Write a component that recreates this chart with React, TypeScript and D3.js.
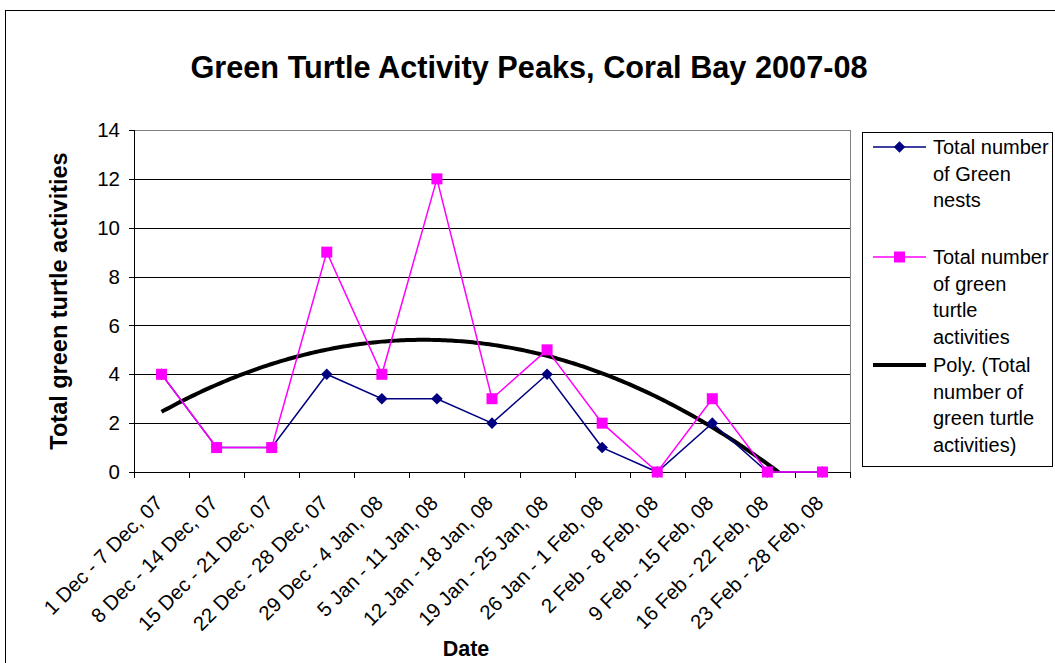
import React from "react";
import * as d3 from "d3";

const categories: string[] = [
  "1 Dec - 7 Dec, 07",
  "8 Dec - 14 Dec, 07",
  "15 Dec - 21 Dec, 07",
  "22 Dec - 28 Dec, 07",
  "29 Dec - 4 Jan, 08",
  "5 Jan - 11 Jan, 08",
  "12 Jan - 18 Jan, 08",
  "19 Jan - 25 Jan, 08",
  "26 Jan - 1 Feb, 08",
  "2 Feb - 8 Feb, 08",
  "9 Feb - 15 Feb, 08",
  "16 Feb - 22 Feb, 08",
  "23 Feb - 28 Feb, 08",
];
const nests: number[] = [4, 1, 1, 4, 3, 3, 2, 4, 1, 0, 2, 0, 0];
const activities: number[] = [4, 1, 1, 9, 4, 12, 3, 5, 2, 0, 3, 0, 0];
const yTicks: number[] = [0, 2, 4, 6, 8, 10, 12, 14];

const legendNests = ["Total number", "of Green", "nests"];
const legendAct = ["Total number", "of green", "turtle", "activities"];
const legendPoly = ["Poly. (Total", "number of", "green turtle", "activities)"];

const FONT = "'Liberation Sans', Arial, Helvetica, sans-serif";
const NAVY = "#000080";
const MAGENTA = "#FF00FF";

// Order-2 polynomial least-squares fit (Excel "Poly." trendline) on x = 1..n
function polyfit2(ys: number[]): [number, number, number] {
  let s0 = 0, s1 = 0, s2 = 0, s3 = 0, s4 = 0, t0 = 0, t1 = 0, t2 = 0;
  ys.forEach((y, i) => {
    const x = i + 1;
    s0 += 1; s1 += x; s2 += x * x; s3 += x ** 3; s4 += x ** 4;
    t0 += y; t1 += x * y; t2 += x * x * y;
  });
  const M = [
    [s0, s1, s2, t0],
    [s1, s2, s3, t1],
    [s2, s3, s4, t2],
  ];
  for (let c = 0; c < 3; c++) {
    for (let r = c + 1; r < 3; r++) {
      const f = M[r][c] / M[c][c];
      for (let k = c; k < 4; k++) M[r][k] -= f * M[c][k];
    }
  }
  const sol = [0, 0, 0];
  for (let r = 2; r >= 0; r--) {
    let s = M[r][3];
    for (let k = r + 1; k < 3; k++) s -= M[r][k] * sol[k];
    sol[r] = s / M[r][r];
  }
  return [sol[0], sol[1], sol[2]];
}

export default function App() {
  const W = 1055, H = 663;
  const left = 134, right = 850, top = 130, bottom = 472;

  const x = d3.scaleBand<string>().domain(categories).range([left, right]).padding(0);
  const bw = x.bandwidth();
  const cx = (c: string) => (x(c) as number) + bw / 2;
  const xi = d3.scaleLinear().domain([0.5, categories.length + 0.5]).range([left, right]);
  const y = d3.scaleLinear().domain([0, 14]).range([bottom, top]);

  const line = d3.line<number>().x((_, i) => cx(categories[i])).y((d) => y(d));

  const [a, b, c2] = polyfit2(activities);
  const trendPts: [number, number][] = d3
    .range(1, categories.length + 0.0001, 0.05)
    .map((t) => [t, a + b * t + c2 * t * t]);
  const trendLine = d3
    .line<[number, number]>()
    .x((d) => xi(d[0]))
    .y((d) => y(d[1]));

  const diamond = d3.symbol().type(d3.symbolDiamond2).size(85)();
  const boundaries = d3.range(categories.length + 1).map((i) => xi(i + 0.5));

  const legX = 862, legY = 132, legW = 190, legH = 334;
  const lh = 26.5;
  const textX = 933;
  const sampleX0 = 873, sampleX1 = 926;
  const entries = [
    { lines: legendNests, y0: 147, kind: "nests" },
    { lines: legendAct, y0: 257, kind: "act" },
    { lines: legendPoly, y0: 365, kind: "poly" },
  ];

  return (
    <svg
      width={W}
      height={H}
      style={{ position: "fixed", left: 0, top: 0, background: "#fff" }}
      fontFamily={FONT}
    >
      <defs>
        <clipPath id="plotclip">
          <rect x={left} y={top} width={right - left} height={bottom - top + 1} />
        </clipPath>
      </defs>
      <rect x={0} y={0} width={W} height={H} fill="#fff" />
      {/* outer chart border */}
      <rect x={5.5} y={10.5} width={W + 20} height={H + 20} fill="none" stroke="#000" strokeWidth={1} />

      {/* title */}
      <text x={529} y={78} textAnchor="middle" fontSize={30.7} fontWeight="bold" fill="#000">
        Green Turtle Activity Peaks, Coral Bay 2007-08
      </text>

      {/* gridlines */}
      {yTicks.filter((t) => t > 0 && t < 14).map((t) => (
        <line key={t} x1={left} x2={right} y1={Math.round(y(t)) + 0.5} y2={Math.round(y(t)) + 0.5} stroke="#000" strokeWidth={1} />
      ))}
      {/* plot border top/right */}
      <line x1={left} x2={right} y1={top + 0.5} y2={top + 0.5} stroke="#808080" strokeWidth={1} />
      <line x1={right + 0.5} x2={right + 0.5} y1={top} y2={bottom} stroke="#808080" strokeWidth={1} />

      {/* y axis */}
      <line x1={left + 0.5} x2={left + 0.5} y1={top} y2={bottom} stroke="#000" strokeWidth={1} />
      {yTicks.map((t) => (
        <g key={t}>
          <line x1={left - 5} x2={left} y1={Math.round(y(t)) + 0.5} y2={Math.round(y(t)) + 0.5} stroke="#000" />
          <text x={left - 14} y={y(t)} dy="0.35em" textAnchor="end" fontSize={20.5} fill="#000">
            {t}
          </text>
        </g>
      ))}

      {/* x axis */}
      <line x1={left} x2={right + 1} y1={bottom + 0.5} y2={bottom + 0.5} stroke="#000" strokeWidth={1} />
      {boundaries.map((bx, i) => (
        <line key={i} x1={Math.round(bx) + 0.5} x2={Math.round(bx) + 0.5} y1={bottom} y2={bottom + 6} stroke="#000" />
      ))}
      {categories.map((c) => (
        <text
          key={c}
          transform={`translate(${cx(c) - 8},${bottom + 22}) rotate(-45)`}
          textAnchor="end"
          dy="0.72em"
          fontSize={20.3}
          fill="#000"
        >
          {c}
        </text>
      ))}

      {/* axis titles */}
      <text x={466} y={656} textAnchor="middle" fontSize={21.5} fontWeight="bold" fill="#000">
        Date
      </text>
      <text
        transform={`translate(67,${(top + bottom) / 2}) rotate(-90)`}
        textAnchor="middle"
        fontSize={23.5}
        fontWeight="bold"
        fill="#000"
      >
        Total green turtle activities
      </text>

      {/* series */}
      <g clipPath="url(#plotclip)">
        <path d={trendLine(trendPts) as string} fill="none" stroke="#000" strokeWidth={4} strokeLinejoin="round" />
      </g>
      <path d={line(nests) as string} fill="none" stroke={NAVY} strokeWidth={1.5} />
      <path d={line(activities) as string} fill="none" stroke={MAGENTA} strokeWidth={1.5} />
      {nests.map((v, i) => (
        <path key={"n" + i} d={diamond as string} transform={`translate(${cx(categories[i])},${y(v)})`} fill={NAVY} />
      ))}
      {activities.map((v, i) => (
        <rect key={"a" + i} x={cx(categories[i]) - 5.5} y={y(v) - 5.5} width={11} height={11} fill={MAGENTA} />
      ))}

      {/* legend */}
      <rect x={legX + 0.5} y={legY + 0.5} width={legW} height={legH} fill="#fff" stroke="#000" strokeWidth={1} />
      {entries.map((e) => (
        <g key={e.kind}>
          <line
            x1={sampleX0}
            x2={sampleX1}
            y1={e.y0}
            y2={e.y0}
            stroke={e.kind === "nests" ? NAVY : e.kind === "act" ? MAGENTA : "#000"}
            strokeWidth={e.kind === "poly" ? 4 : 1.5}
          />
          {e.kind === "nests" && (
            <path d={diamond as string} transform={`translate(${(sampleX0 + sampleX1) / 2},${e.y0})`} fill={NAVY} />
          )}
          {e.kind === "act" && (
            <rect x={(sampleX0 + sampleX1) / 2 - 5.5} y={e.y0 - 5.5} width={11} height={11} fill={MAGENTA} />
          )}
          {e.lines.map((l, j) => (
            <text key={j} x={textX} y={e.y0 + j * lh} dy="0.35em" fontSize={20} fill="#000">
              {l}
            </text>
          ))}
        </g>
      ))}
    </svg>
  );
}
